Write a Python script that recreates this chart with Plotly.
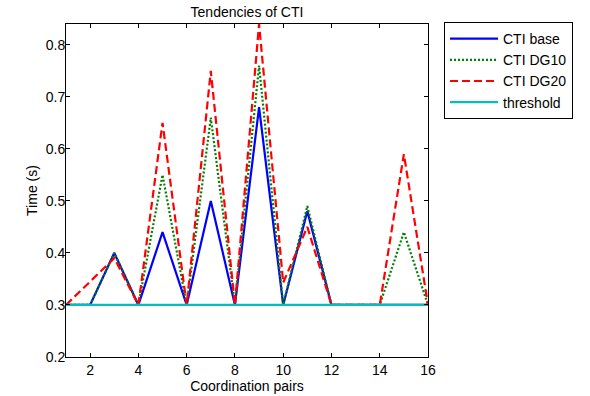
import plotly.graph_objects as go

pairs = list(range(1, 17))
cti_base = [0.30, 0.30, 0.40, 0.30, 0.44, 0.30, 0.50, 0.30, 0.68, 0.30, 0.48, 0.30, 0.30, 0.30, 0.30, 0.30]
cti_dg10 = [0.30, 0.30, 0.40, 0.30, 0.55, 0.30, 0.66, 0.30, 0.76, 0.30, 0.49, 0.30, 0.30, 0.30, 0.44, 0.30]
cti_dg20 = [0.30, 0.345, 0.39, 0.30, 0.65, 0.30, 0.75, 0.30, 0.84, 0.343, 0.45, 0.30, 0.30, 0.30, 0.59, 0.30]
threshold = [0.30] * 16
x_ticks = [2, 4, 6, 8, 10, 12, 14, 16]
y_ticks = [0.2, 0.3, 0.4, 0.5, 0.6, 0.7, 0.8]

FONT = "Liberation Sans, Arial, Helvetica"

fig = go.Figure()
fig.add_trace(go.Scatter(x=pairs, y=cti_base, mode="lines", name="CTI base",
                         line=dict(color="#0000FF", width=2.2, dash="solid")))
fig.add_trace(go.Scatter(x=pairs, y=cti_dg10, mode="lines", name="CTI DG10",
                         line=dict(color="#008000", width=2.2, dash="2px,2px")))
fig.add_trace(go.Scatter(x=pairs, y=cti_dg20, mode="lines", name="CTI DG20",
                         line=dict(color="#FF0000", width=2.2, dash="8px,4px")))
fig.add_trace(go.Scatter(x=pairs, y=threshold, mode="lines", name="threshold",
                         line=dict(color="#00BFBF", width=2.2, dash="solid")))

axis_common = dict(showgrid=False, zeroline=False, showline=True, linecolor="black",
                   linewidth=1, mirror="ticks", ticks="inside", ticklen=4,
                   tickcolor="black", automargin=False,
                   tickfont=dict(family=FONT, size=14, color="black"))

fig.update_layout(
    width=590, height=396,
    paper_bgcolor="white", plot_bgcolor="white",
    margin=dict(l=66, r=162, t=24, b=39),
    title=dict(text="Tendencies of CTI", x=(66 + 428) / 2 / 590, xanchor="center",
               y=1 - 12.5 / 396, yanchor="middle",
               font=dict(family=FONT, size=14, color="black")),
    xaxis=dict(range=[1, 16], tickvals=x_ticks, ticktext=[str(v) for v in x_ticks],
               title=dict(text="Coordination pairs", standoff=3,
                          font=dict(family=FONT, size=14, color="black")),
               **axis_common),
    yaxis=dict(range=[0.2, 0.84], tickvals=y_ticks, ticktext=[f"{v:.1f}" for v in y_ticks],
               ticklabelstandoff=-3,
               title=dict(text="Time (s)", standoff=4,
                          font=dict(family=FONT, size=14, color="black")),
               **axis_common),
    legend=dict(x=(444 - 66) / 362, xanchor="left", y=1 + 2 / 333, yanchor="top",
                bordercolor="black", borderwidth=1, bgcolor="white",
                font=dict(family=FONT, size=14, color="black"),
                itemwidth=48, tracegroupgap=0),
    showlegend=True,
)

fig.write_html("out.html", config={"displayModeBar": False},
               post_script="document.body.style.margin='0px';")
